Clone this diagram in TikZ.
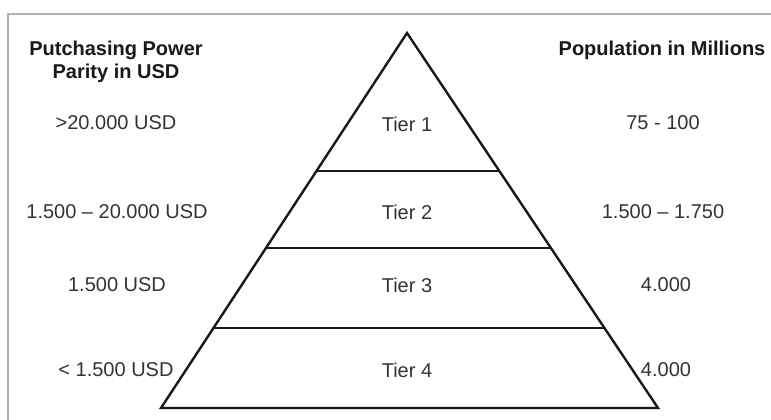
\documentclass[tikz,border=0pt]{standalone}
\usepackage{fontspec}
\setmainfont{Liberation Sans}
\usetikzlibrary{calc}
\begin{document}
\begin{tikzpicture}[x=1pt,y=-1pt,
  lbl/.style={font=\fontsize{20}{23}\selectfont, text=black!80, inner sep=0pt},
  head/.style={font=\fontsize{20}{23}\selectfont\bfseries, text=black!90, align=center, inner sep=0pt},
  pyr/.style={line width=2.4pt, black!90, line join=miter}]
\useasboundingbox (0,0) rectangle (771,420);
\fill[white] (0,0) rectangle (771,420);
% frame (partly cut off)
\coordinate (fbl) at (8,421);
\coordinate (ftl) at (8,14);
\coordinate (ftr) at (772,14);
\draw[gray!60, line width=1.5pt] (fbl) -- (ftl) -- (ftr);
% pyramid
\coordinate (apex) at (407,33);
\coordinate (bl) at (161,408);
\coordinate (br) at (658,408);
\coordinate (l1) at ($(apex)!{138/375}!(bl)$);
\coordinate (r1) at ($(apex)!{138/375}!(br)$);
\coordinate (l2) at ($(apex)!{215/375}!(bl)$);
\coordinate (r2) at ($(apex)!{215/375}!(br)$);
\coordinate (l3) at ($(apex)!{295/375}!(bl)$);
\coordinate (r3) at ($(apex)!{295/375}!(br)$);
\draw[pyr] (apex) -- (bl) -- (br) -- cycle;
\draw[pyr] (l1) -- (r1);
\draw[pyr] (l2) -- (r2);
\draw[pyr] (l3) -- (r3);
% tier labels
\node[lbl] (t1) at (407,124) {Tier 1};
\node[lbl] (t2) at (407,212) {Tier 2};
\node[lbl] (t3) at (407,285) {Tier 3};
\node[lbl] (t4) at (407,370) {Tier 4};
% left column
\node[head] (lh) at (116,62) {Putchasing Power\\Parity in USD};
\node[lbl] (lv1) at (116,123) {>20.000 USD};
\node[lbl] (lv2) at (117,212) {1.500 -- 20.000 USD};
\node[lbl] (lv3) at (117,285) {1.500 USD};
\node[lbl] (lv4) at (116,370) {< 1.500 USD};
% right column
\node[head] (rh) at (662,50) {Population in Millions};
\node[lbl] (rv1) at (663,123) {75 - 100};
\node[lbl] (rv2) at (663,212) {1.500 -- 1.750};
\node[lbl] (rv3) at (666,285) {4.000};
\node[lbl] (rv4) at (666,370) {4.000};
\end{tikzpicture}
\end{document}
